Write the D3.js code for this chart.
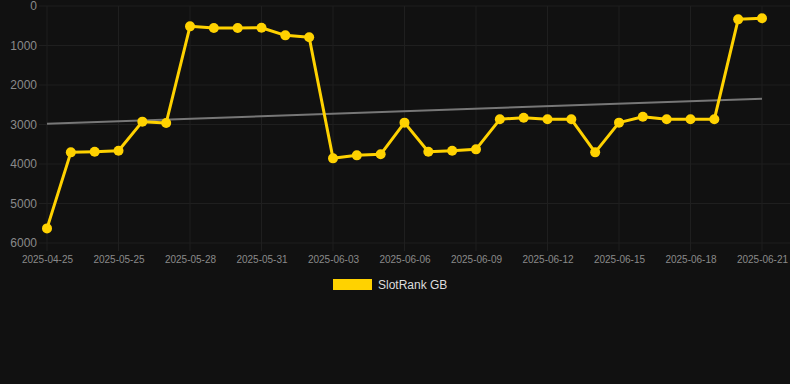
<!DOCTYPE html>
<html>
<head>
<meta charset="utf-8">
<script src="https://cdn.jsdelivr.net/npm/d3@7"></script>
<style>
  html, body { margin: 0; padding: 0; background: #111111; }
  svg { display: block; font-family: "Liberation Sans", Arial, sans-serif; }
</style>
</head>
<body>
<svg id="chart" width="790" height="384"></svg>
<script>
// data
const dates = [
  "2025-04-25", "2025-05-23", "2025-05-24", "2025-05-25", "2025-05-26", "2025-05-27",
  "2025-05-28", "2025-05-29", "2025-05-30", "2025-05-31", "2025-06-01", "2025-06-02",
  "2025-06-03", "2025-06-04", "2025-06-05", "2025-06-06", "2025-06-07", "2025-06-08",
  "2025-06-09", "2025-06-10", "2025-06-11", "2025-06-12", "2025-06-13", "2025-06-14",
  "2025-06-15", "2025-06-16", "2025-06-17", "2025-06-18", "2025-06-19", "2025-06-20",
  "2025-06-21"
]
const ranks = [
  5630, 3705, 3688, 3663, 2928, 2962,
  515, 557, 557, 552, 743, 793,
  3857, 3781, 3755, 2953, 3688, 3663,
  3629, 2869, 2827, 2869, 2869, 3705,
  2953, 2802, 2869, 2869, 2869, 338,
  312
]
const trendEnds = [2980, 2346]
const yTicks = [0, 1000, 2000, 3000, 4000, 5000, 6000]
const seriesName = "SlotRank GB"

const c_line = "#ffd200"
const c_grid = "#1f1f1f"
const c_tick = "#8a8a8a"

const svg = d3.select("#chart")

let x = d3.scalePoint().domain(dates).range([47, 762])
let y = d3.scaleLinear().domain([0, 6000]).range([6, 243])

let shownDates = dates.filter((d, i) => i % 3 === 0)

// GRID
svg.append("g")
  .selectAll("line")
  .data(yTicks)
  .join("line")
    .attr("x1", 39).attr("x2", 790)
    .attr("y1", d => y(d)).attr("y2", d => y(d))
    .attr("stroke", c_grid).attr("stroke-width", 1)

svg.append("g")
  .selectAll("line")
  .data(shownDates)
  .join("line")
    .attr("x1", d => x(d)).attr("x2", d => x(d))
    .attr("y1", 6).attr("y2", 251)
    .attr("stroke", c_grid).attr("stroke-width", 1)

// AXES
let yAxis = d3.axisLeft(y).tickValues(yTicks).tickSize(0).tickPadding(10).tickFormat(d3.format("d"))
svg.append("g")
  .attr("transform", "translate(47,0)")
  .call(yAxis)
  .call(g => g.select(".domain").remove())
  .call(g => g.selectAll("text")
    .attr("fill", c_tick).attr("font-size", 12)
    .attr("font-family", "Liberation Sans, Arial, sans-serif"))

let xAxis = d3.axisBottom(x).tickValues(shownDates).tickSize(0).tickPadding(13)
svg.append("g")
  .attr("transform", "translate(0,243)")
  .call(xAxis)
  .call(g => g.select(".domain").remove())
  .call(g => g.selectAll("text")
    .attr("fill", c_tick).attr("font-size", 10)
    .attr("font-family", "Liberation Sans, Arial, sans-serif"))

// TREND
svg.append("line")
  .attr("x1", x(dates[0])).attr("x2", x(dates[dates.length - 1]))
  .attr("y1", y(trendEnds[0])).attr("y2", y(trendEnds[1]))
  .attr("stroke", "#777777").attr("stroke-width", 2)

// SERIES
let line = d3.line()
  .x((d, i) => x(dates[i]))
  .y(d => y(d))

svg.append("path")
  .datum(ranks)
  .attr("d", line)
  .attr("fill", "none")
  .attr("stroke", c_line)
  .attr("stroke-width", 3)
  .attr("stroke-linejoin", "round")

svg.append("g")
  .selectAll("circle")
  .data(ranks)
  .join("circle")
    .attr("cx", (d, i) => x(dates[i]))
    .attr("cy", d => y(d))
    .attr("r", 5)
    .attr("fill", c_line)

// LEGEND
let legend = svg.append("g").attr("transform", "translate(333,279)")
legend.append("rect")
  .attr("width", 39).attr("height", 11)
  .attr("fill", c_line)
legend.append("text")
  .attr("x", 45).attr("y", 6)
  .attr("dy", "0.35em")
  .attr("fill", "#dddddd")
  .attr("font-size", 12)
  .text(seriesName)
</script>
</body>
</html>
